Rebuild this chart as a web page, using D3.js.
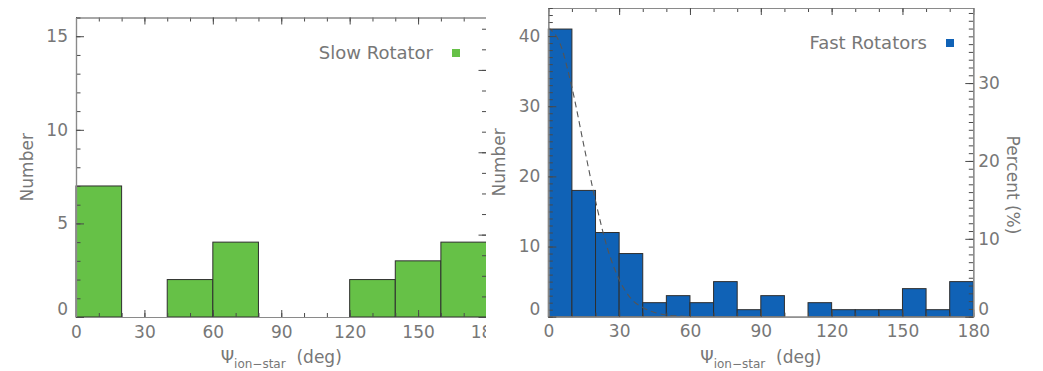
<!DOCTYPE html>
<html>
<head>
<meta charset="utf-8">
<script src="https://cdn.jsdelivr.net/npm/d3@7"></script>
<style>
  body { margin: 0; background: #fff; }
  svg { display: block; font-family: "DejaVu Sans", sans-serif; }
  .lbl { fill: #777; font-size: 17px; }
</style>
</head>
<body>
<svg id="chart" width="1043" height="371"></svg>
<script>
// bin starts (deg)
let slowBins = [0, 20, 40, 60, 80, 100, 120, 140, 160];
let slowCounts = [7, 0, 2, 4, 0, 0, 2, 3, 4];
let fastBins = [0, 10, 20, 30, 40, 50, 60, 70, 80, 90, 100, 110, 120, 130, 140, 150, 160, 170];
let fastCounts = [41, 18, 12, 9, 2, 3, 2, 5, 1, 3, 0, 2, 1, 1, 1, 4, 1, 5];
// dashed fit curve
let fitDeg = [0, 5, 10, 15, 20, 25, 30, 35, 40, 45, 50, 55, 60];
let fitCount = [41.2, 38.9, 32.7, 24.5, 16.5, 9.8, 5.3, 2.6, 1.3, 0.6, 0.25, 0.1, 0];
let xTicks = [0, 30, 60, 90, 120, 150, 180];

let svg = d3.select('#chart');

function drawPanel(opt) {
  let g = svg.append('g');
  let x = opt.x, y = opt.y, yp = opt.yp;
  let x0 = x.range()[0], x1 = x.range()[1];
  let y0 = y.range()[0], y1 = y.range()[1];

  // bars
  g.selectAll('rect.bar')
    .data(opt.bins)
    .enter()
    .append('rect')
    .attr('class', 'bar')
    .attr('x', d => x(d))
    .attr('width', d => x(d + opt.binWidth) - x(d))
    .attr('y', (d, i) => y(opt.counts[i]))
    .attr('height', (d, i) => y(0) - y(opt.counts[i]))
    .attr('fill', opt.color)
    .attr('stroke', '#2e2e2e')
    .attr('stroke-width', 1);

  if (opt.fit) {
    g.append('path')
      .datum(opt.fit)
      .attr('fill', 'none')
      .attr('stroke', '#555')
      .attr('stroke-width', 1.1)
      .attr('stroke-dasharray', '6,4')
      .attr('d', d3.line()
        .curve(d3.curveMonotoneX)
        .x(d => x(d[0]))
        .y(d => y(d[1])));
  }

  // axes: minor + major ticks, inward
  function axis(gen, tr, vals, size, fmt) {
    let a = g.append('g')
      .attr('transform', tr)
      .call(gen.tickValues(vals).tickSizeInner(size).tickSizeOuter(0).tickPadding(8).tickFormat(fmt));
    a.select('.domain').attr('stroke', '#8a8a8a').attr('stroke-width', 1.2);
    a.selectAll('.tick line').attr('stroke', '#4a4a4a');
    a.selectAll('.tick text').attr('class', 'lbl').attr('fill', null).style('font-size', null);
    a.attr('font-family', null).attr('font-size', null);
    return a;
  }
  let xMinor = d3.range(0, 181, 10);
  axis(d3.axisBottom(x), 'translate(0,' + y0 + ')', xMinor, -4, '');
  let xb = axis(d3.axisBottom(x), 'translate(0,' + y0 + ')', xTicks, -7, d3.format('d'));
  xb.selectAll('.tick text').attr('dy', '0.75em');
  axis(d3.axisTop(x), 'translate(0,' + y1 + ')', xMinor, -4, '');
  axis(d3.axisTop(x), 'translate(0,' + y1 + ')', xTicks, -7, '');

  axis(d3.axisLeft(y), 'translate(' + x0 + ',0)', d3.range(0, y.domain()[1] + 0.01, 1), -4.5, '');
  let yl = axis(d3.axisLeft(y), 'translate(' + x0 + ',0)', opt.yMajor, -8, d3.format('d'));
  yl.selectAll('.tick text').filter(d => d === 0).attr('dy', '-0.15em');

  axis(d3.axisRight(yp), 'translate(' + x1 + ',0)', d3.range(0, yp.domain()[1] + 0.01, opt.pMinor), -4.5, '');
  let yr = axis(d3.axisRight(yp), 'translate(' + x1 + ',0)', opt.pMajor, -8, d3.format('d'));
  yr.selectAll('.tick text').attr('x', 5);
  yr.selectAll('.tick text').filter(d => d === 0).attr('dy', '-0.15em');

  // axis titles
  let xt = g.append('text')
    .attr('class', 'lbl')
    .attr('x', (x0 + x1) / 2)
    .attr('y', 363)
    .attr('text-anchor', 'middle');
  xt.append('tspan').text('\u03A8');
  xt.append('tspan').attr('dy', 5).style('font-size', '12px').text('ion\u2212star');
  xt.append('tspan').attr('dy', -5).text('\u00A0 (deg)');

  g.append('text')
    .attr('class', 'lbl')
    .attr('transform', 'translate(' + opt.numX + ',' + ((y0 + y1) / 2) + ') rotate(-90)')
    .attr('text-anchor', 'middle')
    .text('Number');

  if (opt.pctTitle) {
    g.append('text')
      .attr('class', 'lbl')
      .attr('transform', 'translate(' + (x1 + 34) + ',' + 185 + ') rotate(90)')
      .attr('text-anchor', 'middle')
      .text('Percent (%)');
  }

  // legend
  g.append('text')
    .attr('class', 'lbl')
    .style('font-size', '18px')
    .attr('x', opt.legX)
    .attr('y', opt.legY)
    .attr('text-anchor', 'end')
    .text(opt.name);
  g.append('rect')
    .attr('x', opt.legX + 19)
    .attr('y', opt.legY - 10)
    .attr('width', 8)
    .attr('height', 8)
    .attr('fill', opt.color);
  return g;
}

//======= slow rotators =======//
let slowTotal = d3.sum(slowCounts);
let xS = d3.scaleLinear().domain([0, 180]).range([76, 486.5]);
let yS = d3.scaleLinear().domain([0, 16]).range([317, 17.5]);
let pS = d3.scaleLinear().domain([0, 16 / slowTotal * 100]).range([317, 17.5]);
drawPanel({
  x: xS, y: yS, yp: pS,
  bins: slowBins, counts: slowCounts, binWidth: 20,
  color: '#66c147',
  yMajor: [0, 5, 10, 15], pMinor: 5, pMajor: [0, 20, 40, 60],
  numX: 33, name: 'Slow Rotator', legX: 433, legY: 59
});

// right figure sits on top and hides the edge of the left one
svg.append('rect')
  .attr('x', 486)
  .attr('y', 0)
  .attr('width', 1043 - 486)
  .attr('height', 371)
  .attr('fill', '#fff');

//======= fast rotators =======//
let fastTotal = d3.sum(fastCounts);
let xF = d3.scaleLinear().domain([0, 180]).range([548.3, 973.3]);
let yF = d3.scaleLinear().domain([0, 44]).range([316.7, 8]);
let pF = d3.scaleLinear().domain([0, 44 / fastTotal * 100]).range([316.7, 8]);
drawPanel({
  x: xF, y: yF, yp: pF,
  bins: fastBins, counts: fastCounts, binWidth: 10,
  color: '#1062b6',
  fit: fitDeg.map((d, i) => [d, fitCount[i]]),
  yMajor: [0, 10, 20, 30, 40], pMinor: 1, pMajor: [0, 10, 20, 30],
  numX: 505, pctTitle: true, name: 'Fast Rotators', legX: 927, legY: 49
});
</script>
</body>
</html>
